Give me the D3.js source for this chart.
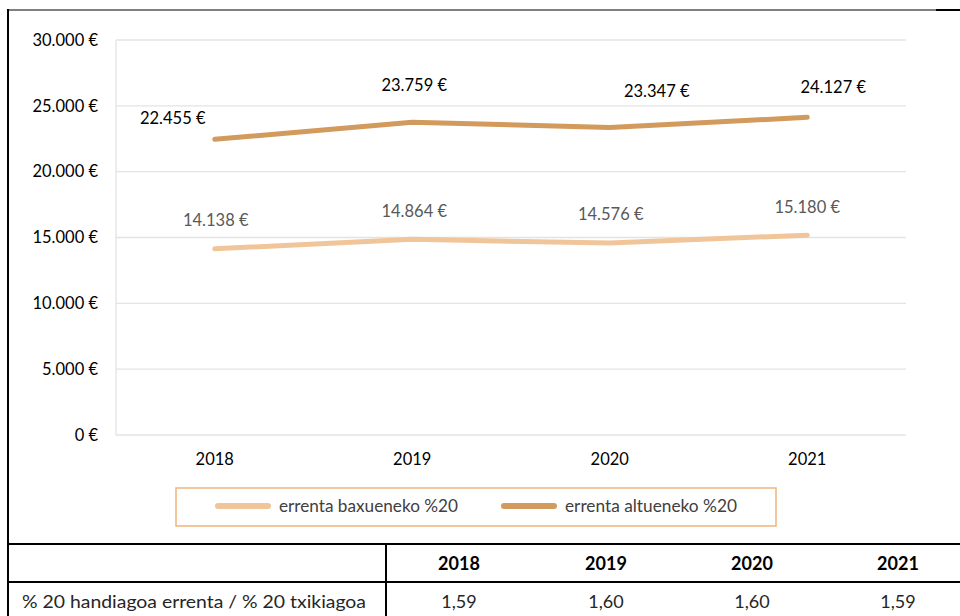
<!DOCTYPE html>
<html><head><meta charset="utf-8">
<script src="https://cdn.jsdelivr.net/npm/d3@7"></script>
<style>
body{margin:0;background:#fff;}
text{font-family:Lato,"Open Sans",sans-serif;}
</style></head>
<body><svg id="c" width="960" height="616"></svg>
<script>
const years = ["2018","2019","2020","2021"];
const lowValues = [14138, 14864, 14576, 15180];
const highValues = [22455, 23759, 23347, 24127];
const ratioValues = ["1,59","1,60","1,60","1,59"];
const yTicks = [0,5000,10000,15000,20000,25000,30000];
const seriesNames = ["errenta baxueneko %20","errenta altueneko %20"];
const rowLabel = "% 20 handiagoa errenta / % 20 txikiagoa";
const colors = ["#F1C59A","#D29A5C"];

const svg = d3.select("#c");
const fmt = v => d3.format(",")(v).replace(/,/g,".") + " €";
const FS = 16.5;

// outer border
svg.append("line").attr("x1",8).attr("x2",8).attr("y1",9).attr("y2",616).attr("stroke","#000").attr("stroke-width",2);
svg.append("line").attr("x1",8).attr("x2",936).attr("y1",10).attr("y2",10).attr("stroke","#000").attr("stroke-width",1);
svg.append("line").attr("x1",936).attr("x2",960).attr("y1",10).attr("y2",10).attr("stroke","#000").attr("stroke-width",2);

const x = d3.scaleBand().domain(years).range([116,906]);
const y = d3.scaleLinear().domain([0,30000]).range([435,40]);

// gridlines
svg.append("g").selectAll("line").data(yTicks).join("line")
  .attr("x1",116).attr("x2",906).attr("y1",d=>y(d)).attr("y2",d=>y(d))
  .attr("stroke","#e3e3e3").attr("stroke-width",1.3);
svg.append("line").attr("x1",116).attr("x2",116).attr("y1",40).attr("y2",435).attr("stroke","#e3e3e3").attr("stroke-width",1.3);

// y axis labels
const yAxis = d3.axisLeft(y).tickValues(yTicks).tickSize(0).tickPadding(18).tickFormat(fmt);
const gy = svg.append("g").attr("transform","translate(116,0)").call(yAxis);
gy.select(".domain").remove();
gy.selectAll("text").attr("font-size",FS).attr("fill","#000").attr("font-family","Lato,sans-serif");

// x axis labels
const xAxis = d3.axisBottom(x).tickSize(0).tickPadding(18);
const gx = svg.append("g").attr("transform","translate(0,435)").call(xAxis);
gx.select(".domain").remove();
gx.selectAll("text").attr("font-size",FS).attr("fill","#000").attr("font-family","Lato,sans-serif");

const cx = d => x(d) + x.bandwidth()/2;
const line = d3.line().x((d,i)=>cx(years[i])).y(d=>y(d));

[lowValues, highValues].forEach((vals,si)=>{
  svg.append("path").datum(vals).attr("d",line).attr("fill","none")
    .attr("stroke",colors[si]).attr("stroke-width",5).attr("stroke-linecap","round").attr("stroke-linejoin","round");
});

// data labels
const highOff = [[-42,-15],[2,-31],[47,-31],[26,-24]];
const lowOff = [[1,-23],[2,-22],[1,-23],[0,-22]];
svg.append("g").selectAll("text").data(highValues).join("text")
  .attr("x",(d,i)=>cx(years[i])+highOff[i][0]).attr("y",(d,i)=>y(d)+highOff[i][1])
  .attr("text-anchor","middle").attr("font-size",FS).attr("fill","#000").text(fmt);
svg.append("g").selectAll("text").data(lowValues).join("text")
  .attr("x",(d,i)=>cx(years[i])+lowOff[i][0]).attr("y",(d,i)=>y(d)+lowOff[i][1])
  .attr("text-anchor","middle").attr("font-size",FS).attr("fill","#595959").text(fmt);

// legend
svg.append("rect").attr("x",176).attr("y",488).attr("width",600).attr("height",38)
  .attr("fill","none").attr("stroke","#F0B578").attr("stroke-width",1.5);
const legSw = [215,501];
const legTx = [279,565];
seriesNames.forEach((n,i)=>{
  svg.append("line").attr("x1",legSw[i]+3).attr("x2",legSw[i]+53).attr("y1",506).attr("y2",506)
    .attr("stroke",colors[i]).attr("stroke-width",6).attr("stroke-linecap","round");
  svg.append("text").attr("x",legTx[i]).attr("y",512).attr("font-size",FS).attr("fill","#404040")
    .attr("textLength",i===0?179:172).attr("lengthAdjust","spacingAndGlyphs").text(n);
});

// table
svg.append("line").attr("x1",8).attr("x2",960).attr("y1",544).attr("y2",544).attr("stroke","#000").attr("stroke-width",2);
svg.append("line").attr("x1",8).attr("x2",960).attr("y1",582).attr("y2",582).attr("stroke","#000").attr("stroke-width",2);
svg.append("line").attr("x1",386).attr("x2",386).attr("y1",544).attr("y2",616).attr("stroke","#000").attr("stroke-width",2);
const colX = [459,606,752,898];
svg.append("g").selectAll("text").data(years).join("text")
  .attr("x",(d,i)=>colX[i]).attr("y",570).attr("text-anchor","middle")
  .attr("font-size",18).attr("font-weight","bold").attr("fill","#000").text(d=>d);
svg.append("g").selectAll("text").data(ratioValues).join("text")
  .attr("x",(d,i)=>colX[i]).attr("y",608).attr("text-anchor","middle")
  .attr("font-size",18).attr("fill","#262626").text(d=>d);
svg.append("text").attr("x",22).attr("y",608).attr("font-size",18).attr("fill","#262626")
  .attr("textLength",344).attr("lengthAdjust","spacingAndGlyphs").text(rowLabel);
</script></body></html>
